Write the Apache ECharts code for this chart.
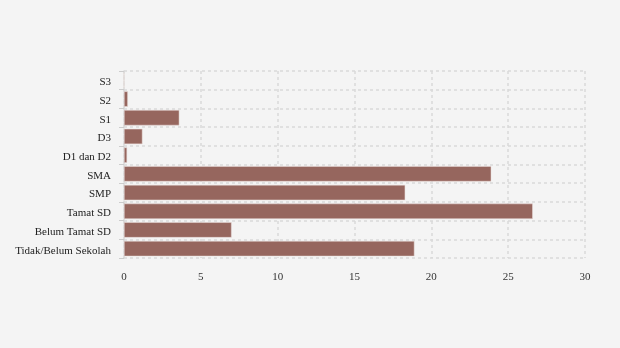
<!DOCTYPE html>
<html>
<head>
<meta charset="utf-8">
<script src="https://cdn.jsdelivr.net/npm/echarts@6/dist/echarts.min.js"></script>
<style>
  html, body { margin: 0; padding: 0; background: #f4f4f4; }
  #chart { width: 620px; height: 348px; }
</style>
</head>
<body>
<div id="chart"></div>
<script>
// Education level categories (bottom to top on the y axis)
var categories = ['Tidak/Belum Sekolah', 'Belum Tamat SD', 'Tamat SD', 'SMP', 'SMA', 'D1 dan D2', 'D3', 'S1', 'S2', 'S3'];
// Percentage of population per education level
var values = [18.9, 7.0, 26.6, 18.3, 23.9, 0.2, 1.2, 3.6, 0.25, 0];
var xTicks = { min: 0, max: 30, interval: 5 };

var chart = echarts.init(document.getElementById('chart'), null, { renderer: 'canvas' });
var font = '"Liberation Serif", "Times New Roman", serif';
chart.setOption({
  backgroundColor: '#f4f4f4',
  animation: false,
  grid: { left: 124, right: 35, top: 71, bottom: 90, containLabel: false },
  xAxis: {
    type: 'value',
    min: xTicks.min, max: xTicks.max, interval: xTicks.interval,
    axisLine: { show: false },
    axisTick: { show: false },
    axisLabel: { color: '#333', fontFamily: font, fontSize: 11, margin: 14 },
    splitLine: { show: true, lineStyle: { color: '#d9d9d9', type: [3, 3], width: 1.5 } }
  },
  yAxis: {
    type: 'category',
    data: categories,
    axisLine: { show: true, lineStyle: { color: '#d9d9d9', type: [3, 3], width: 1.5 } },
    axisTick: { show: true, length: 5, lineStyle: { color: '#cccccc' } },
    axisLabel: {
      margin: 13,
      formatter: '{t|{value}}',
      rich: { t: { color: '#222', fontFamily: font, fontSize: 11, padding: [4, 0, 0, 0] } }
    },
    splitLine: { show: true, interval: 0, lineStyle: { color: '#d9d9d9', type: [3, 3], width: 1.5 } }
  },
  series: [{
    type: 'bar',
    data: values,
    barCategoryGap: '18%',
    itemStyle: { color: '#96665e', borderColor: '#e8dcda', borderWidth: 0.5 }
  }]
});
</script>
</body>
</html>
